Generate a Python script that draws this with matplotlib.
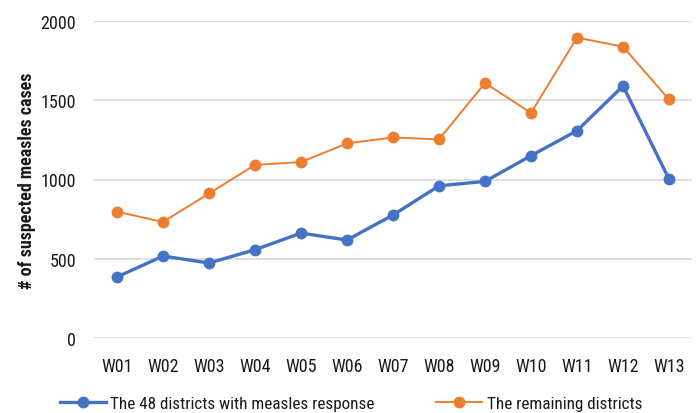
import matplotlib
matplotlib.use("Agg")
import matplotlib.pyplot as plt

weeks = ["W01", "W02", "W03", "W04", "W05", "W06", "W07", "W08", "W09", "W10", "W11", "W12", "W13"]
districts_48 = [385, 517, 473, 557, 662, 618, 776, 960, 988, 1150, 1308, 1590, 1003]
remaining = [797, 732, 912, 1092, 1110, 1228, 1265, 1253, 1609, 1420, 1895, 1838, 1505]
yticks = [0, 500, 1000, 1500, 2000]

plt.rcParams['font.family'] = ['Roboto Condensed', 'DejaVu Sans']

fig = plt.figure(figsize=(7, 4.14), dpi=100)
ax = fig.add_axes([94/700, 1-339/414, (692-94)/700, (339-22)/414])

x = list(range(len(weeks)))
ax.plot(x, districts_48, color="#4472C4", lw=2.4, marker="o", ms=7.5,
        label="The 48 districts with measles response", zorder=3)
ax.plot(x, remaining, color="#ED7D31", lw=1.4, marker="o", ms=7.5,
        label="The remaining districts", zorder=3)

ax.set_xlim(-0.5, len(weeks) - 0.5)
ax.set_ylim(0, 2000)
ax.set_yticks(yticks)
ax.set_xticks(x)
ax.set_xticklabels(weeks)
ax.grid(axis='y', color="#d9d9d9", lw=1.2)
ax.set_axisbelow(True)
for s in ax.spines.values():
    s.set_visible(False)
ax.tick_params(length=0, labelsize=13, colors="#1a1a1a")
ax.tick_params(axis='y', pad=13)
ax.tick_params(axis='x', pad=14)
ax.set_ylabel("# of suspected measles cases", fontsize=13, fontweight='bold', color="#1a1a1a", labelpad=3)

fig.legend(loc='center', bbox_to_anchor=(351/700, 0.022), ncol=2, frameon=False,
           fontsize=12.3, handlelength=2.7, columnspacing=3.6, handletextpad=0.25,
           labelcolor="#1a1a1a")

fig.savefig("out.png", dpi=100)
